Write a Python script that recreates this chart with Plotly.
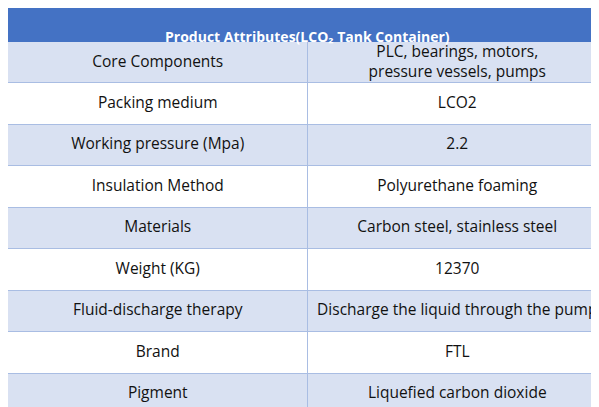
import plotly.graph_objects as go

title = "Product Attributes(LCO₂ Tank Container)"
attributes = ["Core Components", "Packing medium", "Working pressure (Mpa)",
              "Insulation Method", "Materials", "Weight (KG)",
              "Fluid-discharge therapy", "Brand", "Pigment"]
values = ["PLC, bearings, motors,<br>pressure vessels, pumps", "LCO2", "2.2",
          "Polyurethane foaming", "Carbon steel, stainless steel", "12370",
          "Discharge the liquid through the pump", "FTL", "Liquefied carbon dioxide"]

rows = list(range(len(attributes)))
parity = [[i % 2, i % 2] for i in rows]
header_frac = 34 / 407
font = dict(family="Open Sans", size=15.5, color="#111111")

fig = go.Figure()

# row fills
fig.add_trace(go.Heatmap(
    z=parity, x=[0, 1], y=rows,
    colorscale=[[0, "#D9E1F2"], [1, "#FFFFFF"]], zmin=0, zmax=1,
    showscale=False, xgap=1, ygap=1, hoverinfo="skip",
))

fig.add_trace(go.Scatter(x=[0] * len(rows), y=rows, mode="text", text=attributes,
                         textfont=font, hoverinfo="skip"))
fig.add_trace(go.Scatter(x=[1] * len(rows), y=rows, mode="text", text=values,
                         textfont=font, hoverinfo="skip"))

# header band
fig.add_shape(type="rect", xref="paper", yref="paper", x0=0, x1=1,
              y0=1 - header_frac, y1=1, fillcolor="#4472C4", line_width=0)
fig.add_annotation(text="<b>" + title + "</b>", x=0.5, y=1 - header_frac / 2,
                   xref="paper", yref="paper", showarrow=False,
                   font=dict(family="Open Sans", size=14, color="white"))

fig.update_layout(
    width=599, height=407, margin=dict(l=0, r=0, t=0, b=0),
    paper_bgcolor="white", plot_bgcolor="#A9BDE3", showlegend=False,
    xaxis=dict(range=[-0.5, 1.5], visible=False, fixedrange=True),
    yaxis=dict(range=[len(rows) - 0.5, -0.5], visible=False, fixedrange=True,
               domain=[0, 1 - header_frac]),
)

fig.write_html("out.html")
